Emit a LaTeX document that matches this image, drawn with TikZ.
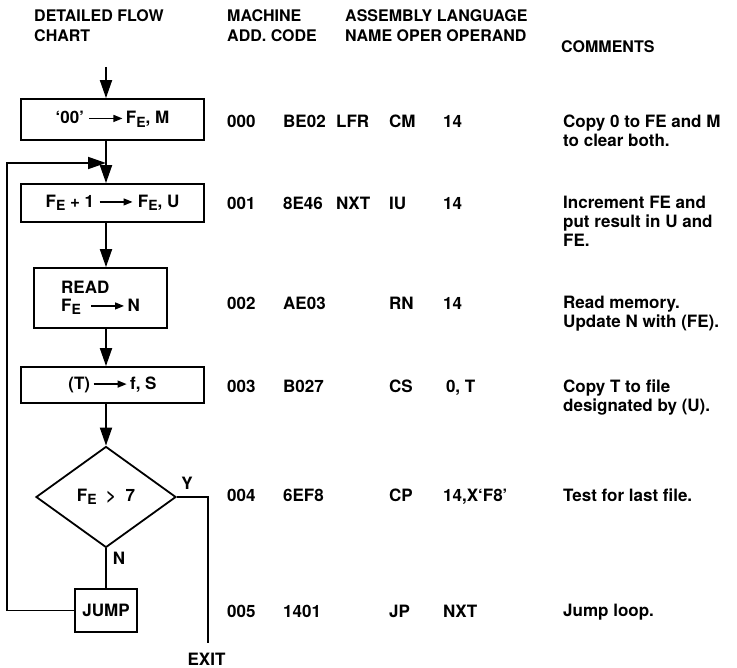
\documentclass[tikz,border=0pt]{standalone}
\usepackage{fontspec}
\setmainfont{TeX Gyre Heros}
\usepackage{tikz}
\usetikzlibrary{arrows.meta, positioning, shapes.geometric}

\newcommand{\FE}{F\raisebox{-3.5pt}{\fontsize{14}{14}\selectfont E}}
\newcommand{\harr}{\tikz[baseline=-5.5pt]\draw[line width=1.3pt, -{Triangle[length=9pt,width=7pt]}] (0pt,0pt) -- (33pt,0pt);}

\begin{document}
\begin{tikzpicture}[x=1pt, y=-1pt,
    every node/.style={inner sep=0pt, font=\bfseries\fontsize{17}{18}\selectfont},
    flowbox/.style={draw, rectangle, line width=1.8pt, minimum width=183pt},
    flow/.style={line width=1.8pt, -{Triangle[length=18pt, width=12pt]}},
    flowline/.style={line width=1.8pt},
    cell/.style={anchor=base west, font=\bfseries\fontsize{17}{19}\selectfont},
    head/.style={align=left, anchor=north west, font=\bfseries\fontsize{16}{20}\selectfont}]
      \useasboundingbox (0,0) rectangle (737,668);

      \node[head] (hchart) at (34,9.2) {DETAILED FLOW\\CHART};
      \node[head] (hmach) at (227,9.2) {MACHINE\\ADD. CODE};
      \node[head] (hasm) at (345,9.2) {ASSEMBLY LANGUAGE\\NAME OPER OPERAND};
      \node[head, anchor=base west] (hcom) at (561,52.7) {COMMENTS};

      \coordinate (fl) at (106,67);
      \node[flowbox, minimum height=41pt] (b1) at (112.5,119.5) {‘00’ \harr\,\FE, M};
      \node[flowbox, minimum height=38pt] (b2) at (112.5,203) {\FE\ + 1 \harr\ \FE, U};
      \node[flowbox, minimum width=133pt, minimum height=60pt, align=left] (rd) at (100.5,298) {READ\\\FE\ \ \harr\,N};
      \node[flowbox, minimum height=36pt] (b4) at (112.5,385) {(T)\,\harr\,f, S};
      \node[draw, diamond, line width=1.8pt, minimum width=140pt, minimum height=101pt] (dia) at (106,497) {\FE\ \ > \ 7};
      \node[draw, rectangle, line width=1.8pt, minimum width=62pt, minimum height=43pt] (jump) at (106,610.5) {JUMP};
      \node (ylab) at (187,483) {Y};
      \node (nlab) at (119,558) {N};
      \node (exit) at (206.5,659) {EXIT};
      \coordinate (lp) at (7,163);
      \coordinate (mg) at (106,163);
      \coordinate (exitend) at (208,643);

      \draw[flow] (fl) -- (b1.north -| fl);
      \draw[flow] (b1.south -| fl) -- (b2.north -| fl);
      \draw[flow] (b2.south -| fl) -- (rd.north -| fl);
      \draw[flow] (rd.south -| fl) -- (b4.north -| fl);
      \draw[flow] (b4.south -| fl) -- (dia.north);
      \draw[flowline] (dia.south) -- (jump.north);
      \draw[flow] (jump.west) -| (lp) -- (mg);
      \draw[flowline] (dia.east) -| (exitend);

      \foreach \y/\a/\c/\n/\o/\p/\t [count=\i] in {
          121/000/BE02/LFR/CM/14/{Copy 0 to FE and M\\to clear both.},
          203/001/8E46/NXT/IU/14/{Increment FE and\\put result in U and\\FE.},
          303/002/AE03//RN/14/{Read memory.\\Update N with (FE).},
          386/003/B027//CS/{\,0, T}/{Copy T to file\\designated by (U).},
          495/004/6EF8//CP/{14,X‘F8’}/{Test for last file.},
          611/005/1401//JP/NXT/{Jump loop.}} {
        \node[cell] (add\i) at (227,\y+6.1) {\a};
        \node[cell] (code\i) at (283,\y+6.1) {\c};
        \node[cell] (name\i) at (336,\y+6.1) {\n};
        \node[cell] (oper\i) at (389,\y+6.1) {\o};
        \node[cell] (opnd\i) at (443,\y+6.1) {\p};
        \node[cell, anchor=north west, align=left] (com\i) at (563,\y-6.6) {\t};
      }
    \end{tikzpicture}
\end{document}
